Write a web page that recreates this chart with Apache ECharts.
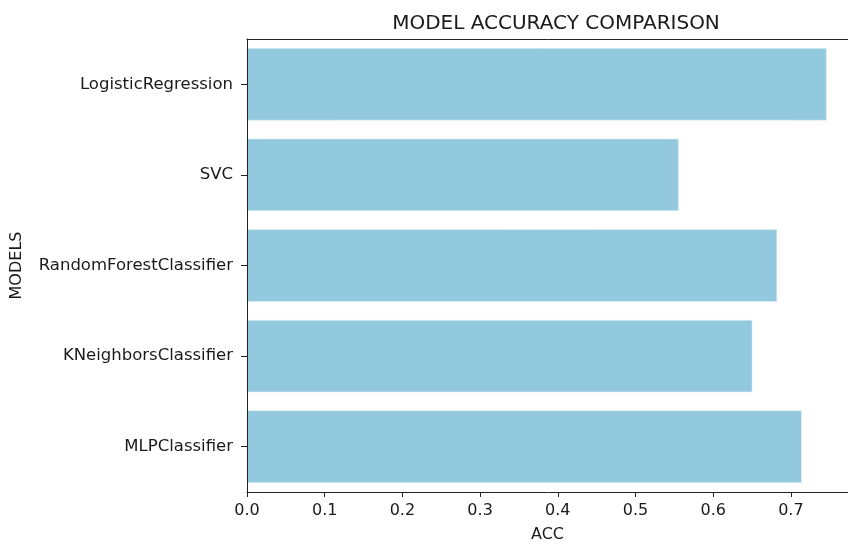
<!DOCTYPE html>
<html>
<head>
<meta charset="utf-8">
<script src="https://cdn.jsdelivr.net/npm/echarts@6/dist/echarts.min.js"></script>
<style>
html,body{margin:0;padding:0;background:#fff;}
#chart{width:848px;height:548px;}
</style>
</head>
<body>
<div id="chart"></div>
<script>
const models = ["LogisticRegression", "SVC", "RandomForestClassifier", "KNeighborsClassifier", "MLPClassifier"];
const accuracy = [0.746, 0.5557, 0.6823, 0.6505, 0.714];
const xTicks = [0.0, 0.1, 0.2, 0.3, 0.4, 0.5, 0.6, 0.7];

const FONT = "DejaVu Sans";
const chart = echarts.init(document.getElementById('chart'), null, {renderer: 'canvas'});
const xMax = 0.7735;
chart.setOption({
  animation: false,
  backgroundColor: '#ffffff',
  title: {
    text: 'MODEL ACCURACY COMPARISON',
    left: 551, top: 9, textAlign: 'center',
    textStyle: {fontFamily: FONT, fontSize: 20, fontWeight: 'normal', color: '#1a1a1a'}
  },
  grid: {left: 247, right: 0, top: 39, bottom: 55, containLabel: false},
  xAxis: [{
    type: 'value', min: 0, max: xMax, interval: 0.1, z: 5,
    name: 'ACC', nameLocation: 'middle', nameGap: 35,
    nameTextStyle: {fontFamily: FONT, fontSize: 16, color: '#1a1a1a'},
    axisLine: {show: true, lineStyle: {color: '#222', width: 1}},
    axisTick: {show: true, length: 5, lineStyle: {color: '#222'},
      customValues: xTicks},
    axisLabel: {fontFamily: FONT, fontSize: 16, color: '#1a1a1a', margin: 11,
      customValues: xTicks,
      formatter: v => v.toFixed(1)},
    splitLine: {show: false}
  }, {
    type: 'value', position: 'top', min: 0, max: xMax, z: 5,
    axisLine: {show: true, lineStyle: {color: '#222', width: 1}},
    axisTick: {show: false}, axisLabel: {show: false}, splitLine: {show: false}
  }],
  yAxis: {
    type: 'category', data: models, inverse: true, z: 5,
    name: 'MODELS', nameLocation: 'middle', nameGap: 222, nameRotate: 90,
    nameTextStyle: {fontFamily: FONT, fontSize: 16, color: '#1a1a1a'},
    axisLine: {show: true, lineStyle: {color: '#222', width: 1}},
    axisTick: {show: true, alignWithLabel: true, length: 6, lineStyle: {color: '#222'}},
    axisLabel: {fontFamily: FONT, fontSize: 16.5, color: '#1a1a1a', margin: 14},
    splitLine: {show: false}
  },
  series: [{
    type: 'bar', data: accuracy, xAxisIndex: 0, z: 2,
    barCategoryGap: '20%',
    itemStyle: {color: '#93c9df', borderColor: '#e6f3f8', borderWidth: 0.6}
  }]
});
</script>
</body>
</html>
